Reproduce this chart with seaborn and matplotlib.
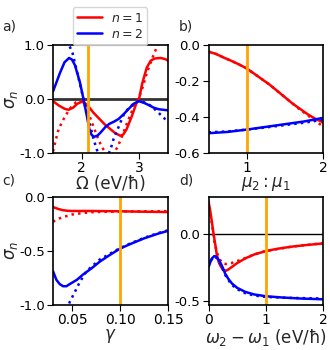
import matplotlib
matplotlib.use("Agg")
import matplotlib.pyplot as plt
import seaborn as sns
from matplotlib.ticker import FormatStrFormatter

# panel a: sigma_n vs Omega (eV/hbar)
a_x1 = [1.5, 1.6, 1.7, 1.77, 1.85, 1.92, 2.0, 2.06, 2.12, 2.2, 2.3, 2.4, 2.5, 2.58,
        2.67, 2.72, 2.78, 2.87, 2.95, 3.0, 3.05, 3.13, 3.2, 3.27, 3.37, 3.45, 3.5]
a_n1 = [-0.04, -0.12, -0.18, -0.20, -0.16, -0.09, -0.05, -0.08, -0.14, -0.25, -0.36, -0.47,
        -0.56, -0.63, -0.68, -0.66, -0.56, -0.32, -0.08, 0.02, 0.28, 0.58, 0.71, 0.75, 0.76,
        0.74, 0.71]
a_x2 = [1.5, 1.55, 1.62, 1.7, 1.78, 1.83, 1.88, 1.93, 1.97, 2.03, 2.09, 2.13, 2.17, 2.21,
        2.27, 2.32, 2.41, 2.48, 2.56, 2.64, 2.73, 2.81, 2.9, 2.99, 3.08, 3.16, 3.25, 3.34,
        3.42, 3.5]
a_n2 = [0.14, 0.28, 0.48, 0.68, 0.76, 0.73, 0.63, 0.45, 0.30, 0.0, -0.32, -0.55, -0.66,
        -0.70, -0.68, -0.63, -0.52, -0.46, -0.42, -0.37, -0.28, -0.19, -0.09, -0.04, -0.07,
        -0.11, -0.16, -0.19, -0.20, -0.21]
a_x1_approx = [1.5, 1.55, 1.6, 1.7, 1.8, 1.9, 1.97, 2.03, 2.08, 2.14, 2.2, 2.26, 2.32, 2.38,
               2.45, 2.52, 2.58, 2.64, 2.7, 2.79, 2.87, 2.96, 3.0, 3.07, 3.13, 3.19, 3.25,
               3.31, 3.4, 3.5]
a_n1_approx = [-0.97, -0.75, -0.55, -0.34, -0.17, -0.06, -0.03, -0.07, -0.17, -0.33, -0.50,
               -0.67, -0.82, -0.94, -1.04, -1.04, -0.97, -0.85, -0.69, -0.44, -0.23, -0.04,
               0.04, 0.25, 0.48, 0.65, 0.82, 0.97, 1.2, 1.4]
a_x2_approx = [1.5, 1.6, 1.7, 1.78, 1.84, 1.91, 1.98, 2.06, 2.15, 2.2, 2.25, 2.3, 2.38,
               2.45, 2.5, 2.55, 2.61, 2.67, 2.73, 2.8, 2.9, 2.99, 3.08, 3.16, 3.22, 3.28,
               3.37, 3.43, 3.5]
a_n2_approx = [1.5, 1.35, 1.15, 1.0, 0.85, 0.54, 0.23, -0.14, -0.51, -0.72, -0.90, -1.05,
               -1.1, -1.05, -0.94, -0.75, -0.60, -0.44, -0.29, -0.19, -0.09, -0.04, -0.06,
               -0.10, -0.14, -0.20, -0.29, -0.35, -0.44]

# panel b: sigma_n vs mu2:mu1
b_x = [0.5, 0.6, 0.7, 0.8, 0.9, 1.0, 1.1, 1.2, 1.3, 1.4, 1.5, 1.6, 1.7, 1.8, 1.9, 2.0]
b_n1 = [-0.037, -0.05, -0.07, -0.088, -0.108, -0.13, -0.16, -0.19, -0.22, -0.255, -0.29,
        -0.325, -0.355, -0.385, -0.41, -0.43]
b_n1_approx = [-0.037, -0.05, -0.07, -0.088, -0.108, -0.13, -0.16, -0.19, -0.22, -0.255,
               -0.29, -0.325, -0.36, -0.39, -0.425, -0.45]
b_x2 = [0.5, 0.75, 1.0, 1.25, 1.5, 1.75, 2.0]
b_n2 = [-0.49, -0.483, -0.47, -0.455, -0.44, -0.425, -0.405]
b_n2_approx = [-0.485, -0.48, -0.47, -0.458, -0.445, -0.432, -0.415]

# panel c: sigma_n vs gamma
c_x1 = [0.03, 0.035, 0.04, 0.045, 0.05, 0.07, 0.1, 0.125, 0.15]
c_n1 = [-0.093, -0.11, -0.122, -0.128, -0.13, -0.13, -0.133, -0.137, -0.14]
c_x1_approx = [0.03, 0.035, 0.04, 0.05, 0.06, 0.07, 0.08, 0.1, 0.125, 0.15]
c_n1_approx = [-0.23, -0.205, -0.188, -0.163, -0.15, -0.142, -0.138, -0.135, -0.133, -0.132]
c_x2 = [0.03, 0.0335, 0.037, 0.0405, 0.044, 0.0475, 0.055, 0.0615, 0.07, 0.079, 0.09, 0.1,
        0.11, 0.125, 0.14, 0.15]
c_n2 = [-0.69, -0.77, -0.81, -0.83, -0.83, -0.81, -0.77, -0.72, -0.665, -0.60, -0.535,
        -0.48, -0.44, -0.385, -0.34, -0.315]
c_x2_approx = [0.045, 0.0475, 0.053, 0.058, 0.065, 0.072, 0.079, 0.09, 0.1, 0.11, 0.125,
               0.14, 0.15]
c_n2_approx = [-1.05, -0.975, -0.88, -0.79, -0.69, -0.635, -0.58, -0.525, -0.475, -0.435,
               -0.38, -0.335, -0.31]

# panel d: sigma_n vs omega2 - omega1 (eV/hbar)
d_x1 = [0.0, 0.025, 0.05, 0.09, 0.12, 0.146, 0.18, 0.22, 0.26, 0.3, 0.35, 0.41, 0.5, 0.64,
        0.8, 1.0, 1.2, 1.45, 1.7, 2.0]
d_n1 = [0.245, 0.19, 0.12, 0.0, -0.08, -0.155, -0.21, -0.245, -0.265, -0.273, -0.262,
        -0.243, -0.215, -0.18, -0.15, -0.125, -0.108, -0.092, -0.08, -0.068]
d_x1_approx = [0.0, 0.05, 0.1, 0.15, 0.2, 0.25, 0.3, 0.4, 0.5, 0.64, 0.8, 1.0, 1.45, 2.0]
d_n1_approx = [0.25, 0.11, -0.05, -0.14, -0.19, -0.215, -0.222, -0.215, -0.2, -0.178,
               -0.15, -0.125, -0.092, -0.066]
d_x2 = [0.0, 0.03, 0.06, 0.1, 0.13, 0.16, 0.2, 0.25, 0.29, 0.35, 0.41, 0.5, 0.64, 0.8, 1.0,
        1.3, 1.6, 2.0]
d_n2 = [-0.243, -0.21, -0.18, -0.163, -0.165, -0.18, -0.205, -0.25, -0.293, -0.335, -0.368,
        -0.40, -0.43, -0.45, -0.463, -0.473, -0.48, -0.486]
d_x2_approx = [0.0, 0.05, 0.1, 0.15, 0.2, 0.3, 0.4, 0.5, 0.64, 0.8, 1.0, 1.3, 1.6, 2.0]
d_n2_approx = [-0.24, -0.19, -0.165, -0.18, -0.215, -0.31, -0.375, -0.41, -0.44, -0.458,
               -0.468, -0.474, -0.477, -0.48]

labels = ["$n=1$", "$n=2$"]
colors = ["red", "blue"]

sns.set_style("ticks")
plt.rcParams["font.family"] = ["DejaVu Sans"]
plt.rcParams["axes.unicode_minus"] = False
plt.rcParams["font.size"] = 10
plt.rcParams["axes.labelsize"] = 12
plt.rcParams["ytick.labelsize"] = 9.5
plt.rcParams["axes.edgecolor"] = "black"
plt.rcParams["xtick.color"] = "black"
plt.rcParams["ytick.color"] = "black"
plt.rcParams["xtick.major.pad"] = 2
plt.rcParams["ytick.major.pad"] = 2
plt.rcParams["xtick.major.size"] = 4
plt.rcParams["ytick.major.size"] = 4

W, H = 330, 350
fig = plt.figure(figsize=(W / 100, H / 100), dpi=100)


def px_axes(left, top, right, bottom):
    return fig.add_axes([left / W, 1 - bottom / H, (right - left) / W, (bottom - top) / H])


ax_a = px_axes(53, 45, 168, 153)
ax_b = px_axes(208.5, 45, 323, 153)
ax_c = px_axes(53, 197, 168, 304.5)
ax_d = px_axes(208.5, 197, 323, 304.5)

lw = 1.8
panels = [
    (ax_a, (a_x1, a_n1, a_x1_approx, a_n1_approx), (a_x2, a_n2, a_x2_approx, a_n2_approx)),
    (ax_b, (b_x, b_n1, b_x, b_n1_approx), (b_x2, b_n2, b_x2, b_n2_approx)),
    (ax_c, (c_x1, c_n1, c_x1_approx, c_n1_approx), (c_x2, c_n2, c_x2_approx, c_n2_approx)),
    (ax_d, (d_x1, d_n1, d_x1_approx, d_n1_approx), (d_x2, d_n2, d_x2_approx, d_n2_approx)),
]

ax_a.axhline(0, color="#333333", lw=2, zorder=1)
ax_d.axhline(0, color="black", lw=1, zorder=1)

for ax, s1, s2 in panels:
    for (x, y, xd, yd), c, lab in zip((s1, s2), colors, labels):
        sns.lineplot(x=x, y=y, color=c, lw=lw, ax=ax, label=lab, legend=False, sort=False)
        sns.lineplot(x=xd, y=yd, color=c, lw=lw, ls=":", ax=ax, legend=False, sort=False)

ax_a.axvline(2.1, color="orange", lw=2)
ax_b.axvline(1.0, color="orange", lw=2)
ax_c.axvline(0.10, color="orange", lw=2)
ax_d.axvline(1.0, color="orange", lw=2)

ax_a.set_xlim(1.5, 3.5)
ax_a.set_ylim(-1, 1)
ax_a.set_xticks([2, 3])
ax_a.set_yticks([-1, 0, 1])
ax_a.yaxis.set_major_formatter(FormatStrFormatter("%.1f"))
ax_a.set_xlabel("Ω (eV/ħ)", labelpad=0)
ax_a.set_ylabel(r"$\sigma_n$")

ax_b.set_xlim(0.5, 2)
ax_b.set_ylim(-0.6, 0)
ax_b.set_xticks([1, 2])
ax_b.set_yticks([0, -0.2, -0.4, -0.6])
ax_b.yaxis.set_major_formatter(FormatStrFormatter("%.1f"))
ax_b.set_xlabel(r"$\mu_2:\mu_1$", labelpad=0)

ax_c.set_xlim(0.03, 0.15)
ax_c.set_ylim(-1, 0)
ax_c.set_xticks([0.05, 0.10, 0.15])
ax_c.xaxis.set_major_formatter(FormatStrFormatter("%.2f"))
ax_c.set_yticks([0, -0.5, -1])
ax_c.yaxis.set_major_formatter(FormatStrFormatter("%.1f"))
ax_c.set_xlabel(r"$\gamma$", labelpad=0)
ax_c.set_ylabel(r"$\sigma_n$")

for ax in (ax_a, ax_c):
    ax.yaxis.set_label_coords(-42 / 115, 0.5)
    ax.yaxis.label.set_va("center")

ax_d.set_xlim(0, 2)
ax_d.set_ylim(-0.525, 0.28)
ax_d.set_xticks([0, 1, 2])
ax_d.set_yticks([0, -0.5])
ax_d.yaxis.set_major_formatter(FormatStrFormatter("%.1f"))
ax_d.set_xlabel(r"$\omega_2-\omega_1$ (eV/ħ)", labelpad=0)

for ax in (ax_a, ax_b, ax_c, ax_d):
    for sp in ax.spines.values():
        sp.set_visible(True)
        sp.set_linewidth(1.2)

sol = [l for l in ax_a.get_lines() if l.get_label() in labels]
fig.legend(handles=sol, labels=labels, loc="upper center",
           bbox_to_anchor=(110 / W, 1 - 1 / H), fontsize=9, handlelength=2.0,
           labelspacing=0.25, borderpad=0.35, handletextpad=0.7)

for txt, xp, yp in [("a)", 2, 27), ("b)", 179, 27), ("c)", 2, 181), ("d)", 179, 181)]:
    fig.text(xp / W, 1 - yp / H, txt, fontsize=10, va="center", ha="left")

fig.savefig("out.png", dpi=100)
